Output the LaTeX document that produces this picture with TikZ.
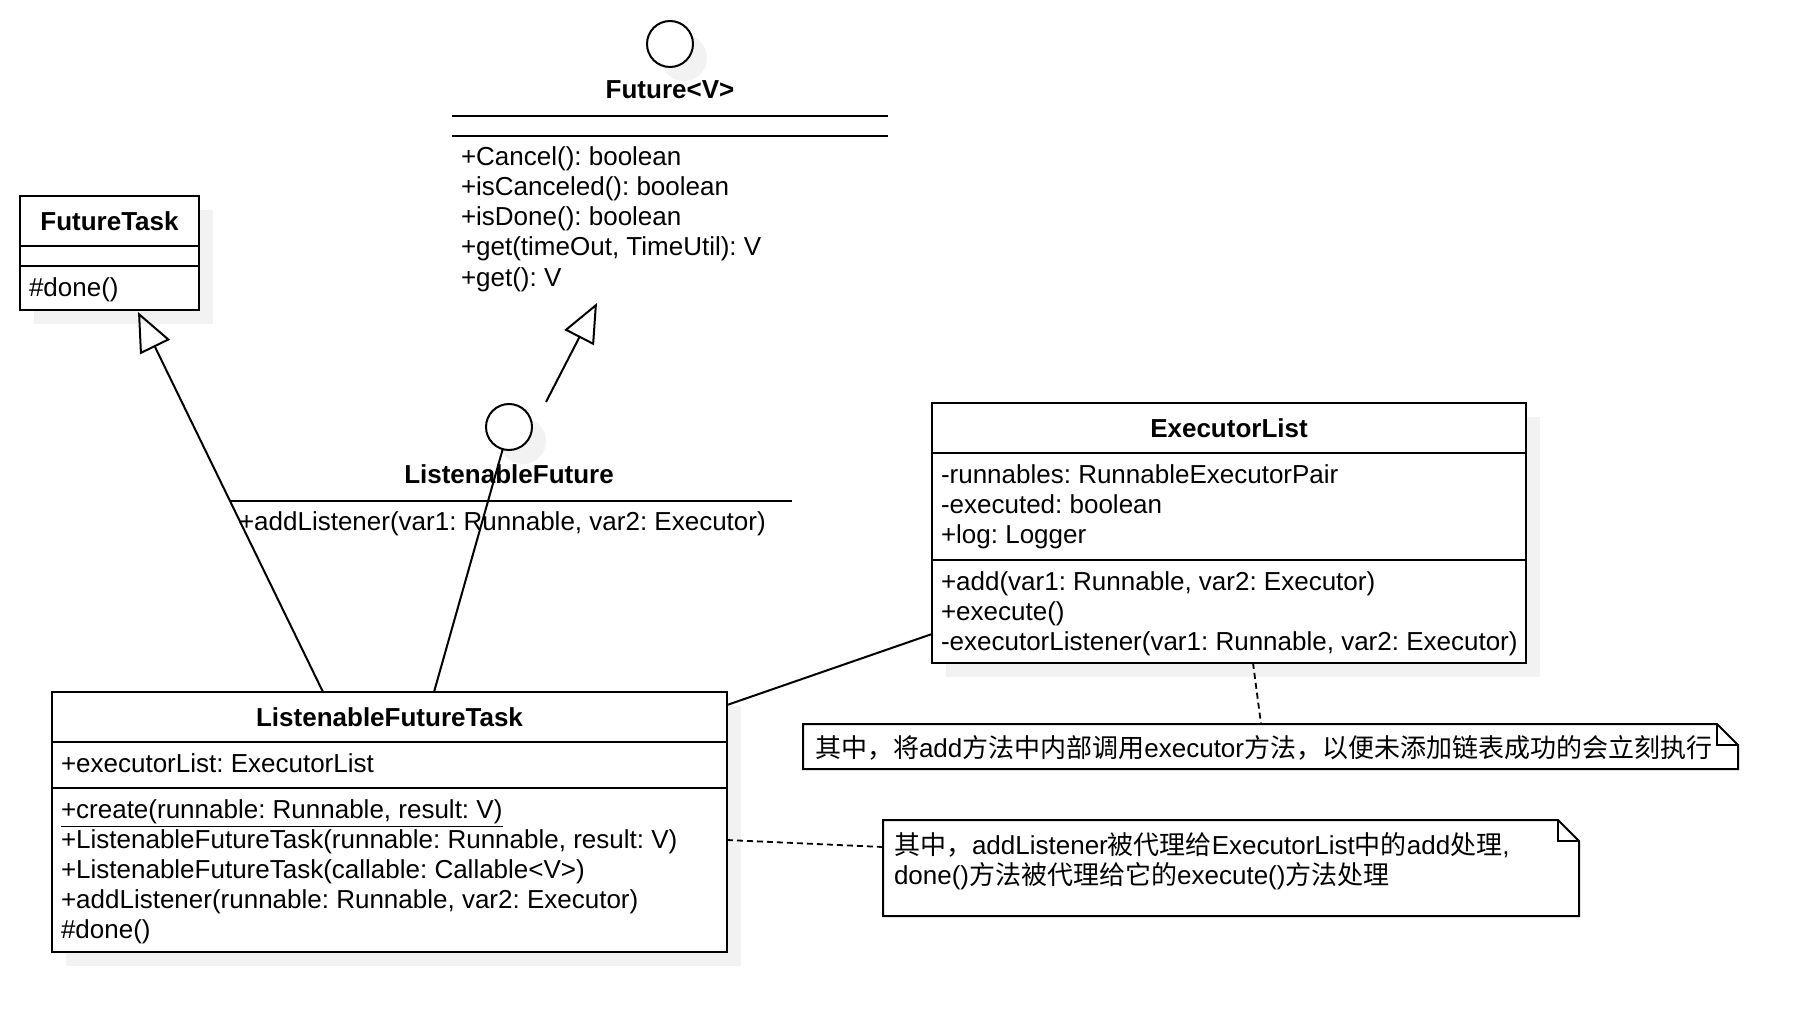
\documentclass[tikz,border=0pt]{standalone}
\usepackage{fontspec}
\setmainfont{Liberation Sans}
\newfontfamily\cjk{Noto Sans CJK SC}
\usetikzlibrary{arrows.meta,calc,fit,shadows}
\definecolor{shadowgray}{RGB}{242,242,242}
\frenchspacing

\begin{document}
\begin{tikzpicture}[x=0.5pt,y=-0.5pt,
  font=\fontsize{13pt}{15pt}\selectfont,
  every node/.style={inner sep=0pt, outer sep=0pt},
  umlshadow/.style={drop shadow={shadow xshift=7pt, shadow yshift=-7pt, fill=shadowgray, opacity=1}},
  umlbox/.style={draw, line width=1pt, fill=white, umlshadow},
  lollipop/.style={circle, draw, line width=1pt, fill=white, minimum size=23pt, umlshadow},
  notebox/.style={line width=1pt, fill=white},
  txt/.style={anchor=base west},
  title/.style={anchor=base, font=\fontsize{13pt}{15pt}\selectfont\bfseries},
  sep/.style={line width=1pt},
  link/.style={line width=1pt},
  inherit/.style={link, -{Triangle[open, length=19.5pt, width=16.5pt, line width=1pt]}},
  anchorline/.style={line width=0.9pt, dash pattern=on 3pt off 2pt}
]
\useasboundingbox (0,0) rectangle (1818,1032);

% ---------- Future<V> interface ----------
\node[lollipop] (futc) at (670,44) {};
\node[fit={(452,20) (888,303)}] (fut) {};
\node[title] (fut-t) at (670,99) {Future<V>};
\draw[sep] (fut.west |- 0,116) -- (fut.east |- 0,116);
\draw[sep] (fut.west |- 0,136) -- (fut.east |- 0,136);
\node[txt] (fut-m1) at (461,166) {+Cancel(): boolean};
\node[txt] (fut-m2) at (461,196) {+isCanceled(): boolean};
\node[txt] (fut-m3) at (461,226) {+isDone(): boolean};
\node[txt] (fut-m4) at (461,256) {+get(timeOut, TimeUtil): V};
\node[txt] (fut-m5) at (461,286) {+get(): V};

% ---------- FutureTask ----------
\node[umlbox, fit={(20,196) (199,310)}] (ft) {};
\draw[sep] (ft.west |- 0,246) -- (ft.east |- 0,246);
\draw[sep] (ft.west |- 0,266) -- (ft.east |- 0,266);
\node[title] (ft-t) at (109.5,230) {FutureTask};
\node[txt] (ft-m1) at (29,296) {\#done()};

% ---------- ListenableFuture interface ----------
\node[lollipop] (lfc) at (509,427) {};
\node[fit={(231,455) (792,540)}] (lf) {};
\node[title] (lf-t) at (509,483) {ListenableFuture};
\draw[sep] (lf.west |- 0,501) -- (lf.east |- 0,501);
\node[txt] (lf-m1) at (239,530) {+addListener(var1: Runnable, var2: Executor)};

% ---------- ExecutorList ----------
\node[umlbox, fit={(932,403) (1526,663)}] (exl) {};
\draw[sep] (exl.west |- 0,453) -- (exl.east |- 0,453);
\draw[sep] (exl.west |- 0,560) -- (exl.east |- 0,560);
\node[title] (exl-t) at (1229,437) {ExecutorList};
\node[txt] (exl-a1) at (941,483) {-runnables: RunnableExecutorPair};
\node[txt] (exl-a2) at (941,513) {-executed: boolean};
\node[txt] (exl-a3) at (941,543) {+log: Logger};
\node[txt] (exl-m1) at (941,590) {+add(var1: Runnable, var2: Executor)};
\node[txt] (exl-m2) at (941,620) {+execute()};
\node[txt] (exl-m3) at (941,650) {-executorListener(var1: Runnable, var2: Executor)};

% ---------- ListenableFutureTask ----------
\node[umlbox, fit={(52,692) (727,952)}] (lft) {};
\draw[sep] (lft.west |- 0,742) -- (lft.east |- 0,742);
\draw[sep] (lft.west |- 0,788) -- (lft.east |- 0,788);
\node[title] (lft-t) at (389.5,726) {ListenableFutureTask};
\node[txt] (lft-a1) at (61,772) {+executorList: ExecutorList};
\node[txt] (lft-m1) at (61,818) {\underline{+create(runnable: Runnable, result: V)}};
\node[txt] (lft-m2) at (61,848) {+ListenableFutureTask(runnable: Runnable, result: V)};
\node[txt] (lft-m3) at (61,878) {+ListenableFutureTask(callable: Callable<V>)};
\node[txt] (lft-m4) at (61,908) {+addListener(runnable: Runnable, var2: Executor)};
\node[txt] (lft-m5) at (61,938) {\#done()};

% ---------- notes ----------
\node[fit={(803,724) (1738,769)}] (note1) {};
\draw[notebox] (note1.south west) -- (note1.north west)
  -- ($(note1.north east)+(-21,0)$) -- ($(note1.north east)+(0,21)$)
  -- (note1.south east) -- cycle;
\draw[line width=1pt] ($(note1.north east)+(-21,0)$) -- ($(note1.north east)+(-21,21)$)
  -- ($(note1.north east)+(0,21)$);
\node[txt] (note1-l1) at (815,757)
  {{\cjk 其中，将}add{\cjk 方法中内部调用}executor{\cjk 方法，以便未添加链表成功的会立刻执行}};

\node[fit={(883,820) (1579,916)}] (note2) {};
\draw[notebox] (note2.south west) -- (note2.north west)
  -- ($(note2.north east)+(-21,0)$) -- ($(note2.north east)+(0,21)$)
  -- (note2.south east) -- cycle;
\draw[line width=1pt] ($(note2.north east)+(-21,0)$) -- ($(note2.north east)+(-21,21)$)
  -- ($(note2.north east)+(0,21)$);
\node[txt] (note2-l1) at (894,854)
  {{\cjk 其中，}addListener{\cjk 被代理给}ExecutorList{\cjk 中的}add{\cjk 处理},};
\node[txt] (note2-l2) at (894,884)
  {done(){\cjk 方法被代理给它的}execute(){\cjk 方法处理}};

% ---------- connectors ----------
\draw[inherit] ($(lft.north west)+(271,0)$) -- ($(ft.south west)+(118,2)$);
\draw[link] ($(lft.north west)+(382,0)$) -- (lfc);
\draw[inherit] ($(lfc)+(37,-25)$) -- ($(fut.south west)+(145,0)$);
\draw[link] ($(lft.north east)+(0,13)$) -- ($(exl.south west)+(0,-29)$);
\draw[anchorline] ($(lft.north east)+(0,148)$) -- ($(note2.north west)+(0,27)$);
\draw[anchorline] ($(exl.south west)+(321,0)$) -- ($(note1.north west)+(458,0)$);
\end{tikzpicture}
\end{document}
